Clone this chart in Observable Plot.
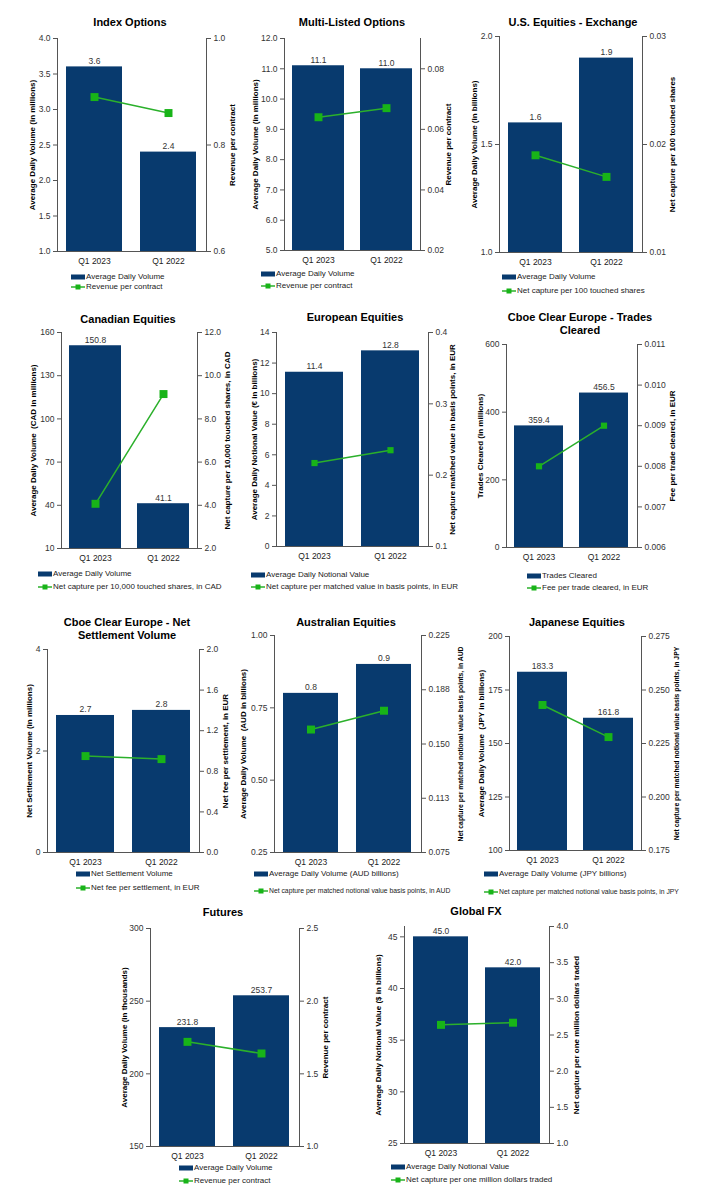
<!DOCTYPE html>
<html><head><meta charset="utf-8">
<script src="https://cdn.jsdelivr.net/npm/d3@7"></script>
<script src="https://cdn.jsdelivr.net/npm/@observablehq/plot@0.6"></script>
<style>
body{margin:0;background:#fff;font-family:"Liberation Sans",Arial,sans-serif;}
#root{position:relative;width:712px;height:1196px;overflow:hidden;background:#fff}
.t{position:absolute;font-weight:bold;font-size:11px;text-align:center;transform:translateX(-50%);white-space:nowrap;line-height:13px;color:#000}
.lg{position:absolute;font-size:8px;color:#222;white-space:nowrap;display:flex;align-items:center;height:10px;line-height:10px}
.lg svg{margin-right:1px}
.p{position:absolute}
</style></head><body><div id="root"></div><script>
const categories = ["Q1 2023", "Q1 2022"];
const titles = ["Index Options", "Multi-Listed Options", "U.S. Equities - Exchange", "Canadian Equities", "European Equities", "Cboe Clear Europe - Trades\nCleared", "Cboe Clear Europe - Net\nSettlement Volume", "Australian Equities", "Japanese Equities", "Futures", "Global FX"];
const barLegend = ["Average Daily Volume", "Average Daily Volume", "Average Daily Volume", "Average Daily Volume", "Average Daily Notional Value", "Trades Cleared", "Net Settlement Volume", "Average Daily Volume (AUD billions)", "Average Daily Volume (JPY billions)", "Average Daily Volume", "Average Daily Notional Value"];
const lineLegend = ["Revenue per contract", "Revenue per contract", "Net capture per 100 touched shares", "Net capture per 10,000 touched shares, in CAD", "Net capture per matched value in basis points, in EUR", "Fee per trade cleared, in EUR", "Net fee per settlement, in EUR", "Net capture per matched notional value basis points, in AUD", "Net capture per matched notional value basis points, in JPY", "Revenue per contract", "Net capture per one million dollars traded"];
const leftAxisLabels = ["Average Daily Volume (in millions)", "Average Daily Volume (in millions)", "Average Daily Volume (in billions)", "Average Daily Volume  (CAD in millions)", "Average Daily Notional Value (€ in billions)", "Trades Cleared (in millions)", "Net Settlement Volume (in millions)", "Average Daily Volume  (AUD in billions)", "Average Daily Volume  (JPY in billions)", "Average Daily Volume (in thousands)", "Average Daily Notional Value ($ in billions)"];
const rightAxisLabels = ["Revenue per contract", "Revenue per contract", "Net capture per 100 touched shares", "Net capture per 10,000 touched shares, in CAD", "Net capture matched value in basis points, in EUR", "Fee per trade cleared, in EUR", "Net fee per settlement, in EUR", "Net capture per matched notional value basis points, in AUD", "Net capture per matched notional value basis points, in JPY", "Revenue per contract", "Net capture per one million dollars traded"];

const barValues = [[3.6, 2.4], [11.1, 11.0], [1.6, 1.9], [150.8, 41.1], [11.4, 12.8], [359.4, 456.5], [2.7, 2.8], [0.8, 0.9], [183.3, 161.8], [231.8, 253.7], [45.0, 42.0]];
const lineValues = [[0.89, 0.86], [0.064, 0.067], [0.019, 0.017], [4.07, 9.15], [0.217, 0.235], [0.008, 0.009], [0.95, 0.92], [0.160, 0.173], [0.243, 0.228], [1.72, 1.64], [2.64, 2.67]];

const leftDomains = [[1, 4], [5, 12], [1, 2], [10, 160], [0, 14], [0, 600], [0, 4], [0.25, 1], [100, 200], [150, 300], [25, 46]];
const rightDomains = [[0.6, 1.0], [0.02, 0.09], [0.01, 0.03], [2, 12], [0.1, 0.4], [0.006, 0.011], [0, 2], [0.075, 0.225], [0.175, 0.275], [1, 2.5], [1, 4]];

const leftTickLabels = [
  ["1.0", "1.5", "2.0", "2.5", "3.0", "3.5", "4.0"],
  ["5.0", "6.0", "7.0", "8.0", "9.0", "10.0", "11.0", "12.0"],
  ["1.0", "1.5", "2.0"],
  ["10", "40", "70", "100", "130", "160"],
  ["0", "2", "4", "6", "8", "10", "12", "14"],
  ["0", "200", "400", "600"],
  ["0", "2", "4"],
  ["0.25", "0.50", "0.75", "1.00"],
  ["100", "125", "150", "175", "200"],
  ["150", "200", "250", "300"],
  ["25", "30", "35", "40", "45"]
];
const rightTicks = [
  [0.6, 0.8, 1.0],
  [0.02, 0.04, 0.06, 0.08],
  [0.01, 0.02, 0.03],
  [2, 4, 6, 8, 10, 12],
  [0.1, 0.2, 0.3, 0.4],
  [0.006, 0.007, 0.008, 0.009, 0.010, 0.011],
  [0, 0.4, 0.8, 1.2, 1.6, 2.0],
  [0.075, 0.1125, 0.15, 0.1875, 0.225],
  [0.175, 0.2, 0.225, 0.25, 0.275],
  [1, 1.5, 2, 2.5],
  [1, 1.5, 2, 2.5, 3, 3.5, 4]
];
const rightTickLabels = [
  ["0.6", "0.8", "1.0"],
  ["0.02", "0.04", "0.06", "0.08"],
  ["0.01", "0.02", "0.03"],
  ["2.0", "4.0", "6.0", "8.0", "10.0", "12.0"],
  ["0.1", "0.2", "0.3", "0.4"],
  ["0.006", "0.007", "0.008", "0.009", "0.010", "0.011"],
  ["0.0", "0.4", "0.8", "1.2", "1.6", "2.0"],
  ["0.075", "0.113", "0.150", "0.188", "0.225"],
  ["0.175", "0.200", "0.225", "0.250", "0.275"],
  ["1.0", "1.5", "2.0", "2.5"],
  ["1.0", "1.5", "2.0", "2.5", "3.0", "3.5", "4.0"]
];

// layout (pixel placement of each panel)
const layout = [
  {x0: 0, x1: 236, xL: 57, xR: 206, yT: 38, yB: 251, tx: 130, ty: 22, lx: 71, r1: 277, r2: 287, labL: 32, labR: 232, mr: 4.5},
  {x0: 236, x1: 470, xL: 284, xR: 420, yT: 38, yB: 250, tx: 352, ty: 22, lx: 261, r1: 274, r2: 286, labL: 255, labR: 448, mr: 4.5},
  {x0: 470, x1: 712, xL: 499, xR: 642, yT: 36, yB: 252, tx: 573, ty: 22, lx: 502, r1: 277, r2: 291, labL: 474, labR: 672, mr: 4.5},
  {x0: 0, x1: 236, xL: 61, xR: 197, yT: 332, yB: 548, tx: 128, ty: 319, lx: 38, r1: 574, r2: 587, labL: 33, labR: 227, mr: 4.5},
  {x0: 236, x1: 470, xL: 276, xR: 428, yT: 332, yB: 546, tx: 355, ty: 317, lx: 251, r1: 575, r2: 587, labL: 254, labR: 452, mr: 3.5},
  {x0: 470, x1: 712, xL: 506, xR: 637, yT: 344, yB: 547, tx: 580, ty: 317, lx: 527, r1: 576, r2: 588, labL: 480, labR: 672, mr: 3.5},
  {x0: 0, x1: 236, xL: 47, xR: 199, yT: 649, yB: 852, tx: 127, ty: 622, lx: 76, r1: 874, r2: 888, labL: 29, labR: 225, mr: 4.5},
  {x0: 236, x1: 470, xL: 274, xR: 421, yT: 635, yB: 852, tx: 346, ty: 622, lx: 254, r1: 874, r2: 891, labL: 243, labR: 460, mr: 4.5, small: true},
  {x0: 470, x1: 712, xL: 509, xR: 641, yT: 636, yB: 850, tx: 577, ty: 622, lx: 484, r1: 874, r2: 892, labL: 481, labR: 676, mr: 4.5, small: true},
  {x0: 100, x1: 355, xL: 150, xR: 299, yT: 928, yB: 1146, tx: 223, ty: 912, lx: 179, r1: 1168, r2: 1181, labL: 124, labR: 325, mr: 4.5},
  {x0: 355, x1: 600, xL: 404, xR: 549, yT: 926, yB: 1143, tx: 476, ty: 911, lx: 391, r1: 1167, r2: 1180, labL: 378, labR: 576, mr: 4.5}
];

const barColor = "#083a6e";
const lineColor = "#2bb02b";
const dotColor = "#18b418";
const axisColor = "#555";
const font = "'Liberation Sans', Arial, sans-serif";
const root = document.getElementById("root");

function lookup(ticks, labels, v) {
  const k = ticks.findIndex(t => Math.abs(t - v) < 1e-9);
  return k >= 0 ? labels[k] : "";
}

function panel(i) {
  const L = layout[i];
  const [lo, hi] = leftDomains[i];
  const [r0, r1] = rightDomains[i];
  const toLeft = v => lo + (v - r0) / (r1 - r0) * (hi - lo);
  const rows = categories.map((c, j) => ({cat: c, bar: barValues[i][j], line: toLeft(lineValues[i][j])}));
  const lTicks = leftTickLabels[i].map(Number);
  const rTicks = rightTicks[i].map(toLeft);
  const mt = 10, mb = 22;
  const width = L.x1 - L.x0;
  const height = (L.yB - L.yT) + mt + mb;
  const chart = Plot.plot({
    width, height,
    marginLeft: L.xL - L.x0, marginRight: L.x1 - L.xR, marginTop: mt, marginBottom: mb,
    style: {fontFamily: font, fontSize: "8.5px", background: "transparent", overflow: "visible"},
    x: {type: "band", domain: categories, paddingInner: 0.24, paddingOuter: 0.12, axis: null},
    y: {domain: [lo, hi], axis: null},
    marks: [
      Plot.barY(rows, {x: "cat", y1: () => lo, y2: "bar", fill: barColor}),
      Plot.line(rows, {x: "cat", y: "line", stroke: lineColor, strokeWidth: 1.5}),
      Plot.dot(rows, {x: "cat", y: "line", symbol: "square", r: L.mr, fill: dotColor, stroke: null}),
      Plot.text(rows, {x: "cat", y: "bar", text: d => d3.format(".1f")(d.bar), lineAnchor: "bottom", dy: -3, fontSize: 8.5, fill: "#333"}),
      Plot.axisX({tickSize: 0, tickPadding: 6, fontSize: 8.5, fill: "#222", label: null}),
      Plot.axisY({ticks: lTicks, tickFormat: v => lookup(lTicks, leftTickLabels[i], v), tickSize: 4, tickPadding: 3, stroke: axisColor, fill: "#333", fontSize: 8.5, label: null}),
      Plot.axisY({anchor: "right", ticks: rTicks, tickFormat: v => lookup(rTicks, rightTickLabels[i], v), tickSize: 4, tickPadding: 3, stroke: axisColor, fill: "#333", fontSize: 8.5, label: null}),
      Plot.frame({anchor: "left", stroke: axisColor}),
      Plot.frame({anchor: "right", stroke: axisColor}),
      Plot.frame({anchor: "bottom", stroke: axisColor}),
      Plot.text([leftAxisLabels[i]], {text: d => d, frameAnchor: "left", dx: -(L.xL - L.labL), rotate: -90, textAnchor: "middle", lineAnchor: "middle", fontWeight: "bold", fontSize: 8, fill: "#000"}),
      Plot.text([rightAxisLabels[i]], {text: d => d, frameAnchor: "right", dx: L.labR - L.xR, rotate: -90, textAnchor: "middle", lineAnchor: "middle", fontWeight: "bold", fontSize: L.small ? 6.8 : 8, fill: "#000"})
    ]
  });
  const wrap = document.createElement("div");
  wrap.className = "p";
  wrap.style.left = L.x0 + "px";
  wrap.style.top = (L.yT - mt) + "px";
  wrap.appendChild(chart);
  root.appendChild(wrap);

  const t = document.createElement("div");
  t.className = "t";
  t.style.left = L.tx + "px";
  t.style.top = (L.ty - 6.5) + "px";
  t.innerHTML = titles[i].split("\n").join("<br>");
  root.appendChild(t);

  const lg1 = document.createElement("div");
  lg1.className = "lg";
  lg1.style.left = L.lx + "px";
  lg1.style.top = (L.r1 - 5) + "px";
  lg1.innerHTML = `<svg width="14" height="10"><rect x="0" y="2.5" width="14" height="5" fill="${barColor}"/></svg><span>${barLegend[i]}</span>`;
  root.appendChild(lg1);

  const lg2 = document.createElement("div");
  lg2.className = "lg";
  lg2.style.left = L.lx + "px";
  lg2.style.top = (L.r2 - 5) + "px";
  if (L.small) lg2.style.fontSize = "6.8px";
  lg2.innerHTML = `<svg width="14" height="10"><line x1="0" x2="14" y1="5" y2="5" stroke="${lineColor}" stroke-width="1.5"/><rect x="4.5" y="2.5" width="5" height="5" fill="${dotColor}"/></svg><span>${lineLegend[i]}</span>`;
  root.appendChild(lg2);
}

for (let i = 0; i < titles.length; i++) panel(i);
</script></body></html>
